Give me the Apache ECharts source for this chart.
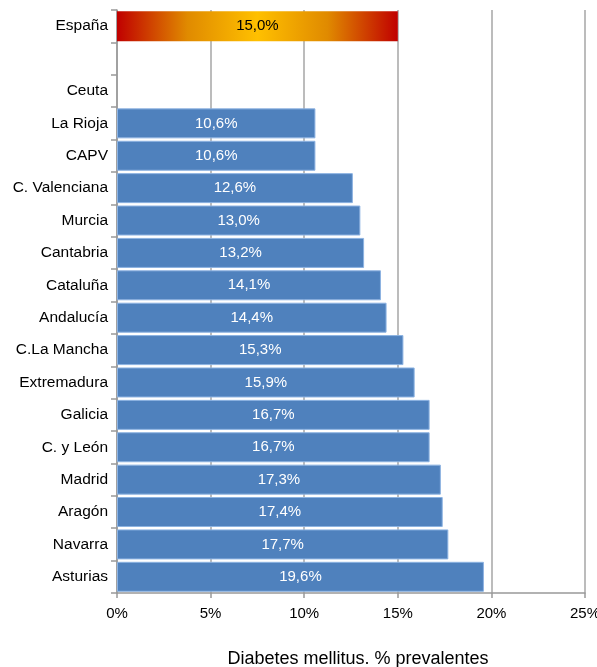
<!DOCTYPE html>
<html>
<head>
<meta charset="utf-8">
<script src="https://cdn.jsdelivr.net/npm/echarts@6/dist/echarts.min.js"></script>
<style>
  html, body { margin: 0; padding: 0; background: #fff; }
  #chart { width: 597px; height: 667px; }
</style>
</head>
<body>
<div id="chart"></div>
<script>
// regions, top to bottom ('' is the empty spacer row)
var regions = ['España', '', 'Ceuta', 'La Rioja', 'CAPV', 'C. Valenciana', 'Murcia', 'Cantabria',
  'Cataluña', 'Andalucía', 'C.La Mancha', 'Extremadura', 'Galicia', 'C. y León', 'Madrid',
  'Aragón', 'Navarra', 'Asturias'];
// prevalence %, null = no bar
var prevalence = [15.0, null, null, 10.6, 10.6, 12.6, 13.0, 13.2, 14.1, 14.4, 15.3, 15.9,
  16.7, 16.7, 17.3, 17.4, 17.7, 19.6];
var xTicks = [0, 5, 10, 15, 20, 25];

var fontFam = '"Liberation Sans", Arial, sans-serif';

var myChart = echarts.init(document.getElementById('chart'));

var spainGrad = new echarts.graphic.LinearGradient(0, 0, 1, 0, [
  { offset: 0, color: '#c00000' },
  { offset: 0.25, color: '#e08a00' },
  { offset: 0.5, color: '#ffc000' },
  { offset: 0.75, color: '#e08a00' },
  { offset: 1, color: '#c00000' }
]);

var barData = prevalence.map(function (v, i) {
  if (v === null) return '-';
  if (i === 0) {
    return {
      value: v,
      itemStyle: { color: spainGrad, borderWidth: 0 },
      label: { color: '#000' }
    };
  }
  return v;
});

var option = {
  animation: false,
  grid: { left: 117, right: 12, top: 10, bottom: 74, outerBoundsMode: 'none', containLabel: false },
  xAxis: {
    type: 'value',
    min: xTicks[0],
    max: xTicks[xTicks.length - 1],
    interval: 5,
    name: 'Diabetes mellitus. % prevalentes',
    nameLocation: 'middle',
    nameGap: 57,
    nameTextStyle: { fontFamily: fontFam, fontSize: 18, color: '#000', padding: [0, 0, 0, 14] },
    axisLine: { show: true, lineStyle: { color: '#999', width: 1.5 } },
    axisTick: { show: true, length: 5, lineStyle: { color: '#999', width: 1.5 } },
    axisLabel: {
      fontFamily: fontFam, fontSize: 15, color: '#000', margin: 13,
      formatter: '{value}%'
    },
    splitLine: { show: true, lineStyle: { color: '#a6a6a6', width: 1.5 } }
  },
  yAxis: {
    type: 'category',
    inverse: true,
    data: regions,
    axisLine: { show: true, lineStyle: { color: '#999', width: 1.5 } },
    axisTick: { show: true, length: 6, alignWithLabel: false, lineStyle: { color: '#999', width: 1.5 } },
    axisLabel: { fontFamily: fontFam, fontSize: 15.5, color: '#000', margin: 9 }
  },
  series: [{
    type: 'bar',
    data: barData,
    barWidth: 30,
    itemStyle: { color: '#4f81bd', borderColor: '#8db3e2', borderWidth: 1 },
    label: {
      show: true,
      position: 'inside',
      fontFamily: fontFam,
      fontSize: 15,
      color: '#fff',
      formatter: function (p) {
        return p.value.toFixed(1).replace('.', ',') + '%';
      }
    }
  }]
};

myChart.setOption(option);
</script>
</body>
</html>
